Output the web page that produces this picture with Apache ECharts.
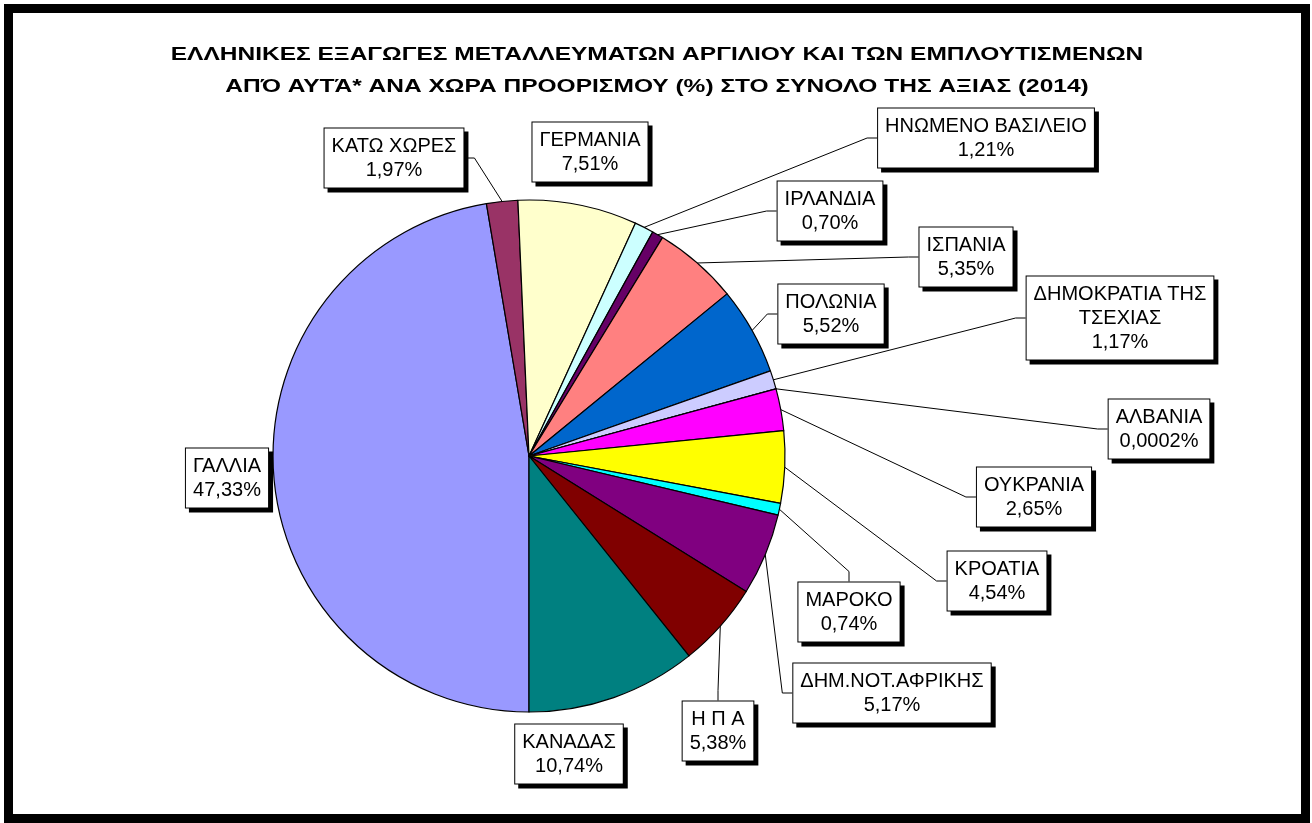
<!DOCTYPE html>
<html>
  <head>
    <meta charset="UTF-8" />
    <title>Εξαγωγές μεταλλευμάτων αργιλίου 2014</title>
    <script src="https://cdn.jsdelivr.net/npm/echarts@6/dist/echarts.min.js"></script>
  </head>
  <body style="margin:0">
    <div id="pieChart" style="width: 1312px; height: 823px"></div>
  </body>
  <script>
    // countries in the order of the original sheet (first slice starts at the bottom)
    const countries = ['ΓΑΛΛΙΑ', 'ΚΑΤΩ ΧΩΡΕΣ', 'ΓΕΡΜΑΝΙΑ', 'ΗΝΩΜΕΝΟ ΒΑΣΙΛΕΙΟ', 'ΙΡΛΑΝΔΙΑ', 'ΙΣΠΑΝΙΑ',
      'ΠΟΛΩΝΙΑ', 'ΔΗΜΟΚΡΑΤΙΑ ΤΗΣ\nΤΣΕΧΙΑΣ', 'ΑΛΒΑΝΙΑ', 'ΟΥΚΡΑΝΙΑ', 'ΚΡΟΑΤΙΑ', 'ΜΑΡΟΚΟ',
      'ΔΗΜ.ΝΟΤ.ΑΦΡΙΚΗΣ', 'Η Π Α', 'ΚΑΝΑΔΑΣ'];
    const shares = [47.33, 1.97, 7.51, 1.21, 0.70, 5.35, 5.52, 1.17, 0.0002, 2.65, 4.54, 0.74, 5.17, 5.38, 10.74];

    const colors = ['#9999FF', '#993366', '#FFFFCC', '#CCFFFF', '#660066', '#FF8080', '#0066CC', '#CCCCFF',
      '#000080', '#FF00FF', '#FFFF00', '#00FFFF', '#800080', '#800000', '#008080'];
    // centre of each label box on the page
    const labelBoxes = [[227, 478], [394, 158], [590, 152], [986, 138], [830, 211], [966, 257], [831, 314],
      [1120, 318], [1159, 429], [1034, 497], [997, 581], [849, 612], [892, 693], [718, 731], [569, 754]];
    const noLeader = ['ΓΑΛΛΙΑ', 'ΓΕΡΜΑΝΙΑ', 'ΚΑΝΑΔΑΣ']; // labels sitting right at their slice

    const titleText = 'ΕΛΛΗΝΙΚΕΣ ΕΞΑΓΩΓΕΣ ΜΕΤΑΛΛΕΥΜΑΤΩΝ ΑΡΓΙΛΙΟΥ ΚΑΙ ΤΩΝ ΕΜΠΛΟΥΤΙΣΜΕΝΩΝ\n' +
      'ΑΠΌ ΑΥΤΆ* ΑΝΑ ΧΩΡΑ ΠΡΟΟΡΙΣΜΟΥ (%) ΣΤΟ ΣΥΝΟΛΟ ΤΗΣ ΑΞΙΑΣ (2014)';

    function fmt(v) {
      let s = v >= 0.01 ? v.toFixed(2) : String(v);
      return s.replace('.', ',') + '%';
    }

    let myChart = echarts.init(document.getElementById('pieChart'));
    myChart.setOption({
      animation: false,
      color: colors,
      graphic: [{
        type: 'rect',
        shape: { x: 8.5, y: 8.5, width: 1297, height: 810 },
        style: { fill: 'none', stroke: '#000', lineWidth: 9 }
      }, {
        // title is drawn a bit wider than the font, like the original
        type: 'text',
        x: 657,
        y: 39,
        scaleX: 1.29,
        style: {
          text: titleText,
          font: 'bold 19px "Liberation Sans"',
          textAlign: 'center',
          textVerticalAlign: 'top',
          lineHeight: 32,
          fill: '#000'
        }
      }],
      series: [{
        type: 'pie',
        center: [529, 456],
        radius: 256,
        startAngle: -90,
        clockwise: true,
        avoidLabelOverlap: false,
        data: countries.map((c, i) => ({
          name: c,
          value: shares[i],
          labelLine: { show: noLeader.indexOf(c) < 0 }
        })),
        itemStyle: { borderColor: '#000', borderWidth: 1.2 },
        label: {
          formatter: p => p.name + '\n' + fmt(p.value),
          fontFamily: 'Liberation Sans',
          fontSize: 20,
          lineHeight: 24,
          color: '#000',
          align: 'center',
          backgroundColor: '#fff',
          borderColor: '#000',
          borderWidth: 1,
          padding: [6, 7, 5, 7],
          shadowColor: '#000',
          shadowOffsetX: 4,
          shadowOffsetY: 4,
          shadowBlur: 0
        },
        labelLine: { show: true, length: 20, length2: 10, lineStyle: { color: '#000', width: 1 } },
        labelLayout: p => ({
          x: labelBoxes[p.dataIndex][0],
          y: labelBoxes[p.dataIndex][1],
          align: 'center',
          verticalAlign: 'middle'
        }),
        emphasis: { disabled: true }
      }]
    });
  </script>
</html>
